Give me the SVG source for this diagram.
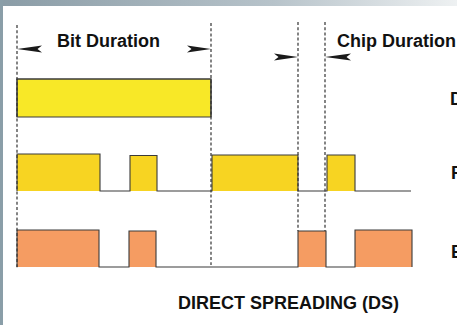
<svg xmlns="http://www.w3.org/2000/svg" width="457" height="325" viewBox="0 0 457 325">
<defs>
<linearGradient id="topbar" x1="0" y1="0" x2="1" y2="0">
<stop offset="0" stop-color="#8a9ca6"/>
<stop offset="0.6" stop-color="#b7c3ca"/>
<stop offset="1" stop-color="#eef1f2"/>
</linearGradient>
<linearGradient id="lowline" x1="0" y1="0" x2="1" y2="0">
<stop offset="0" stop-color="#b09a2a"/>
<stop offset="1" stop-color="#8a8a8a"/>
</linearGradient>
<style>
.lbl{font-family:"Liberation Sans",Arial,sans-serif;font-weight:bold;font-size:18px;fill:#111;}
.dash{stroke:#333;stroke-width:1.2;stroke-dasharray:3,2.2;fill:none;}
.sig{stroke:#3a3a3a;stroke-width:1.1;stroke-linejoin:miter;}
.arr{fill:#1a1a1a;}
</style>
</defs>
<rect x="0" y="0" width="457" height="325" fill="#ffffff"/>
<rect x="0" y="0" width="457" height="6" fill="url(#topbar)"/>
<rect x="0" y="0" width="3" height="325" fill="#8a9ea8"/>

<g id="signal-d">
<path class="sig" d="M17,117 V79 H211 V117 Z" fill="#f8e827" stroke="none"/>
<path class="sig" d="M17,117 V79 H211 V117" fill="none"/>
<line x1="211" y1="117" x2="409" y2="117" stroke="url(#lowline)" stroke-width="1.2"/>
</g>

<g id="signal-p">
<path class="sig" fill="#f7d422" d="M17,191 V154 H100 V191 H130 V155.5 H157 V191 H212 V155 H298 V191 H327 V155 H355 V191 H411"/>
</g>

<g id="signal-e">
<path class="sig" fill="#f59c62" d="M17,267 V230 H99 V267 H129 V231 H156 V267 H298 V231 H326 V267 H355 V230 H412 V267"/>
</g>

<g id="connectors">
<line class="dash" x1="17" y1="25" x2="17" y2="268"/>
<line class="dash" x1="211" y1="23" x2="211" y2="265"/>
<line class="dash" x1="298" y1="22" x2="298" y2="231"/>
<line class="dash" x1="325" y1="22" x2="325" y2="231"/>
<polygon class="arr" points="17,49 42,45.5 37.5,49 42,52.5"/>
<polygon class="arr" points="211,49 187,45.5 191.5,49 187,52.5"/>
<polygon class="arr" points="298,57 274,53.5 278.5,57 274,60.5"/>
<polygon class="arr" points="325,57 351,53.5 346.5,57 351,60.5"/>
</g>

<g id="labels">
<text class="lbl" x="57" y="47">Bit Duration</text>
<text class="lbl" x="337" y="47">Chip Duration</text>
<text class="lbl" x="450" y="105">D</text>
<text class="lbl" x="451" y="179">P</text>
<text class="lbl" x="451" y="258">E</text>
<text class="lbl" x="178" y="309">DIRECT SPREADING (DS)</text>
</g>
</svg>
